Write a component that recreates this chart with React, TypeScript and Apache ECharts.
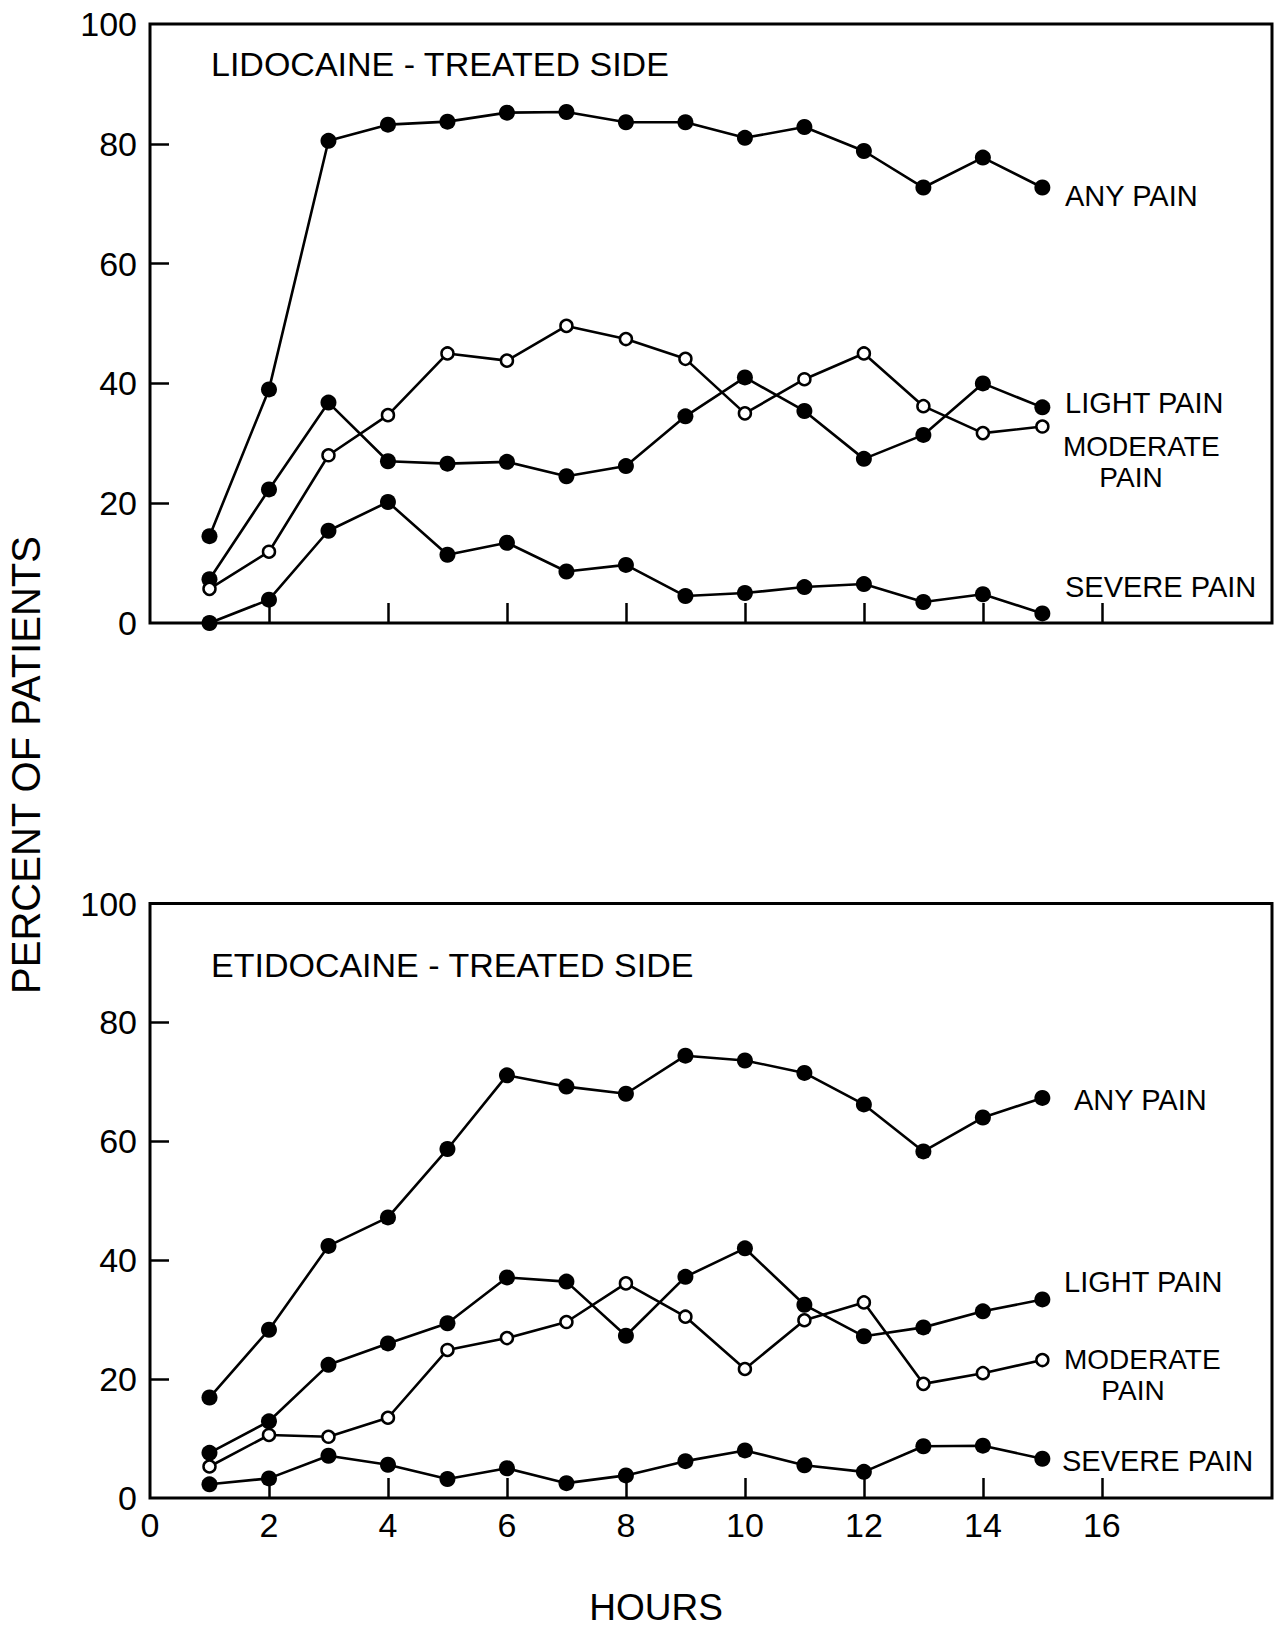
import React, { useEffect, useRef } from "react";
import * as echarts from "echarts";

const hours = [1, 2, 3, 4, 5, 6, 7, 8, 9, 10, 11, 12, 13, 14, 15];

// Lidocaine-treated side
const lidoAny = [14.5, 39, 80.5, 83.2, 83.7, 85.2, 85.3, 83.6, 83.6, 81, 82.8, 78.8, 72.7, 77.7, 72.7];
const lidoLight = [7.3, 22.3, 36.8, 27, 26.6, 26.9, 24.5, 26.2, 34.5, 41, 35.4, 27.4, 31.4, 40, 36];
const lidoModerate = [5.7, 11.9, 28, 34.7, 45, 43.8, 49.6, 47.4, 44.1, 35, 40.7, 45, 36.2, 31.7, 32.8];
const lidoSevere = [0, 3.9, 15.4, 20.2, 11.4, 13.4, 8.6, 9.7, 4.5, 5, 6, 6.5, 3.5, 4.8, 1.6];

// Etidocaine-treated side
const etiAny = [16.9, 28.3, 42.4, 47.2, 58.7, 71.1, 69.2, 68, 74.4, 73.6, 71.5, 66.2, 58.3, 64, 67.3];
const etiLight = [7.6, 12.9, 22.4, 26, 29.4, 37.1, 36.4, 27.3, 37.2, 42, 32.5, 27.2, 28.7, 31.4, 33.4];
const etiModerate = [5.3, 10.6, 10.3, 13.5, 24.9, 26.9, 29.6, 36.1, 30.5, 21.7, 29.9, 32.9, 19.2, 21, 23.2];
const etiSevere = [2.3, 3.3, 7.1, 5.6, 3.2, 5, 2.5, 3.8, 6.2, 8, 5.5, 4.4, 8.7, 8.8, 6.6];

const xLabels = [0, 2, 4, 6, 8, 10, 12, 14, 16];
const xTicks = [2, 4, 6, 8, 10, 12, 14, 16];
const yLabels = [0, 20, 40, 60, 80, 100];
const yTicks = [20, 40, 60, 80];

const FONT = '"Liberation Sans", Arial, sans-serif';

function pairs(values: number[]) {
  return hours.map((h, i) => [h, values[i]]);
}

function filled(values: number[], idx: number) {
  return {
    type: "line",
    xAxisIndex: idx,
    yAxisIndex: idx,
    data: pairs(values),
    symbol: "circle",
    symbolSize: 16,
    itemStyle: { color: "#000" },
    lineStyle: { color: "#000", width: 2.6 },
    z: 3,
  };
}

function open(values: number[], idx: number) {
  return {
    type: "line",
    xAxisIndex: idx,
    yAxisIndex: idx,
    data: pairs(values),
    symbol: "circle",
    symbolSize: 12,
    itemStyle: { color: "#fff", borderColor: "#000", borderWidth: 2.5 },
    lineStyle: { color: "#000", width: 2.6 },
    z: 4,
  };
}

function txt(text: string, x: number, y: number, size: number, align = "left", rotation = 0) {
  return {
    type: "text",
    x,
    y,
    rotation,
    z: 10,
    style: {
      text,
      font: `${size}px ${FONT}`,
      fill: "#000",
      align,
      verticalAlign: "middle",
      textAlign: align,
      textVerticalAlign: "middle",
    },
  };
}

export default function App() {
  const ref = useRef<HTMLDivElement>(null);

  useEffect(() => {
    if (!ref.current) return;
    const chart = echarts.init(ref.current, undefined, { renderer: "svg" });

    const xAxisBase = (idx: number, showLabels: boolean) => ({
      type: "value",
      gridIndex: idx,
      min: 0,
      max: 18.86,
      axisLine: { show: false },
      splitLine: { show: false },
      axisTick: {
        show: true,
        inside: true,
        length: 20,
        customValues: xTicks,
        lineStyle: { color: "#000", width: 2.5 },
      },
      axisLabel: {
        show: showLabels,
        customValues: xLabels,
        margin: 10,
        color: "#000",
        fontSize: 34,
        fontFamily: FONT,
      },
    });

    const yAxisBase = (idx: number) => ({
      type: "value",
      gridIndex: idx,
      min: 0,
      max: 100,
      interval: 20,
      axisLine: { show: false },
      splitLine: { show: false },
      axisTick: {
        show: true,
        inside: true,
        length: 19,
        customValues: yTicks,
        lineStyle: { color: "#000", width: 2.5 },
      },
      axisLabel: {
        show: true,
        customValues: yLabels,
        margin: 13,
        color: "#000",
        fontSize: 34,
        fontFamily: FONT,
      },
    });

    const gridStyle = { show: true, borderColor: "#000", borderWidth: 3, backgroundColor: "transparent" };

    chart.setOption({
      animation: false,
      backgroundColor: "#fff",
      grid: [
        { ...gridStyle, left: 150, top: 24, width: 1122, height: 599 },
        { ...gridStyle, left: 150, top: 903.5, width: 1122, height: 594.5 },
      ],
      xAxis: [xAxisBase(0, false), xAxisBase(1, true)],
      yAxis: [yAxisBase(0), yAxisBase(1)],
      series: [
        filled(lidoAny, 0),
        filled(lidoLight, 0),
        open(lidoModerate, 0),
        filled(lidoSevere, 0),
        filled(etiAny, 1),
        filled(etiLight, 1),
        open(etiModerate, 1),
        filled(etiSevere, 1),
      ],
      graphic: [
        txt("LIDOCAINE - TREATED SIDE", 211, 64, 34),
        txt("ANY PAIN", 1065, 196, 29),
        txt("LIGHT PAIN", 1065, 403, 29),
        txt("MODERATE", 1063, 446, 28),
        txt("PAIN", 1131, 477, 28, "center"),
        txt("SEVERE PAIN", 1065, 587, 29),

        txt("ETIDOCAINE - TREATED SIDE", 211, 965, 34),
        txt("ANY PAIN", 1074, 1100, 29),
        txt("LIGHT PAIN", 1064, 1282, 29),
        txt("MODERATE", 1064, 1359, 28),
        txt("PAIN", 1133, 1390, 28, "center"),
        txt("SEVERE PAIN", 1062, 1461, 29),

        txt("PERCENT OF PATIENTS", 26, 765, 40, "center", Math.PI / 2),
        txt("HOURS", 656, 1607, 37, "center"),
      ],
    });

    return () => chart.dispose();
  }, []);

  return (
    <div
      ref={ref}
      style={{ position: "absolute", left: 0, top: 0, width: 1275, height: 1629, background: "#fff" }}
    />
  );
}
